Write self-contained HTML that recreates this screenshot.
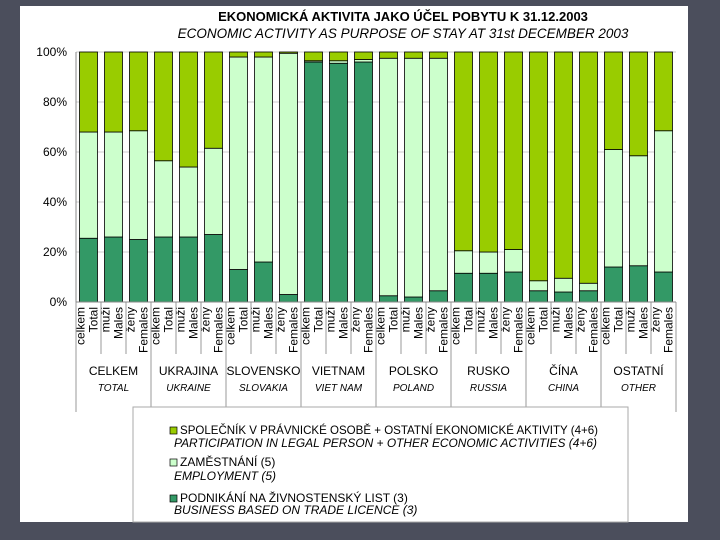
<!DOCTYPE html>
<html><head><meta charset="utf-8"><style>
body{margin:0;width:720px;height:540px;background:#4b4e5c;overflow:hidden;font-family:"Liberation Sans",sans-serif}
svg{position:absolute;left:0;top:0}
</style></head><body>
<svg id="c" width="720" height="540">
<rect x="20" y="6" width="668" height="516" fill="#fff"/>
<text x="403" y="21" text-anchor="middle" font-size="13" font-weight="bold">EKONOMICKÁ AKTIVITA JAKO ÚČEL POBYTU  K 31.12.2003</text>
<text x="403" y="38" text-anchor="middle" font-size="13.5" font-style="italic">ECONOMIC ACTIVITY AS PURPOSE OF STAY AT 31st DECEMBER 2003</text>
<g id="grid"></g><g id="bars"></g><g id="axes"></g>
<rect x="133" y="407" width="495" height="115" fill="#fff" stroke="#aaa"/>
<g font-size="12">
<rect x="170" y="427" width="7" height="7" fill="#99cc00" stroke="#000" stroke-width="0.7"/>
<text x="180" y="434" textLength="418" lengthAdjust="spacingAndGlyphs">SPOLEČNÍK V PRÁVNICKÉ OSOBĚ + OSTATNÍ EKONOMICKÉ AKTIVITY  (4+6)</text>
<text x="174" y="447" font-style="italic" textLength="423" lengthAdjust="spacingAndGlyphs">PARTICIPATION IN LEGAL PERSON + OTHER ECONOMIC ACTIVITIES (4+6)</text>
<rect x="170" y="459" width="7" height="7" fill="#ccffcc" stroke="#000" stroke-width="0.7"/>
<text x="180" y="466">ZAMĚSTNÁNÍ (5)</text>
<text x="174" y="480" font-style="italic">EMPLOYMENT (5)</text>
<rect x="170" y="495" width="7" height="7" fill="#339966" stroke="#000" stroke-width="0.7"/>
<text x="180" y="502">PODNIKÁNÍ NA ŽIVNOSTENSKÝ LIST (3)</text>
<text x="174" y="514" font-style="italic">BUSINESS BASED ON TRADE LICENCE (3)</text>
</g>
</svg>
<script>
const groups=["CELKEM","UKRAJINA","SLOVENSKO","VIETNAM","POLSKO","RUSKO","ČÍNA","OSTATNÍ"];
const groupsEn=["TOTAL","UKRAINE","SLOVAKIA","VIET NAM","POLAND","RUSSIA","CHINA","OTHER"];
const subCz=["celkem","muži","ženy"];
const subEn=["Total","Males","Females"];
const business=[25.5,26,25, 26,26,27, 13,16,3, 96,95.5,96, 2.5,2,4.5, 11.5,11.5,12, 4.5,4,4.5, 14,14.5,12];
const employment=[42.5,42,43.5, 30.5,28,34.5, 85,82,96.5, 0.5,1,1, 95,95.5,93, 9,8.5,9, 4,5.5,3, 47,44,56.5];
const yTicks=[0,20,40,60,80,100];
const ns="http://www.w3.org/2000/svg";
const X0=76,X1=676,Y0=302,Y1=52,n=business.length,step=(X1-X0)/n,bw=18;
const y=v=>Y0-(v/100)*(Y0-Y1);
const xc=i=>X0+step*(i+0.5);
function mk(tag,attrs,parent,txt){const e=document.createElementNS(ns,tag);for(const k in attrs)e.setAttribute(k,attrs[k]);if(txt!=null)e.textContent=txt;document.getElementById(parent).appendChild(e);return e;}
yTicks.forEach(t=>{
 const l=mk('line',{x1:X0,x2:X1,y1:y(t),y2:y(t),stroke:'#ccc','stroke-width':1},'grid');
 
 
 const tx=mk('text',{x:67,y:y(t)+4,'text-anchor':'end','font-size':12},'axes',t+'%');
 
 
});
const cols=['#339966','#ccffcc','#99cc00'];
for(let i=0;i<n;i++){
 const vals=[business[i],employment[i],100-business[i]-employment[i]];
 let base=0;
 vals.forEach((v,k)=>{
  const r=mk('rect',{x:xc(i)-bw/2,y:y(base+v),width:bw,height:y(base)-y(base+v),fill:cols[k],stroke:'#000','stroke-width':0.8},'bars');
  
  
  base+=v;
 });
 const s=i%3;
 const a=mk('text',{transform:`translate(${xc(i)-4},307) rotate(-90)`,'text-anchor':'end','font-size':12},'axes',subCz[s]);
 
 
 const b=mk('text',{transform:`translate(${xc(i)+9},307) rotate(-90)`,'text-anchor':'end','font-size':12},'axes',subEn[s]);
 
 
}
for(let i=0;i<=n;i++){
 const g=i%3===0;
 const l=mk('line',{x1:X0+step*i,x2:X0+step*i,y1:Y0,y2:g?412:354,stroke:'#999','stroke-width':1},'axes');
 
 
}
groups.forEach((g,j)=>{
 const cx=X0+step*(3*j+1.5);
 const t=mk('text',{x:cx,y:375,'text-anchor':'middle','font-size':12},'axes',g);
 
 
 const e=mk('text',{x:cx,y:391,'text-anchor':'middle','font-size':10,'font-style':'italic'},'axes',groupsEn[j]);
 
 
});
const ax=mk('line',{x1:X0,x2:X0,y1:Y1,y2:Y0,stroke:'#888'},'axes');


const bx=mk('line',{x1:X0,x2:X1,y1:Y0,y2:Y0,stroke:'#888'},'axes');


</script>
</body></html>
